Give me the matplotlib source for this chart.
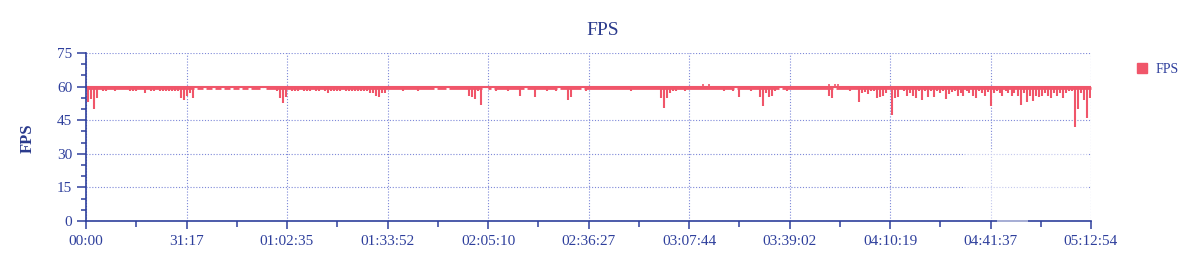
import numpy as np
import matplotlib
matplotlib.use("Agg")
import matplotlib.pyplot as plt
from matplotlib.lines import Line2D
from matplotlib.patches import Rectangle
from matplotlib.ticker import MultipleLocator, FixedLocator

# ---------------- data ----------------
TOTAL_SECONDS = 18774          # 05:12:54
FPS_TOP = 60                   # upper edge of the FPS band
BAND_FLOOR = 59                # the series flickers between 59 and 60

# minimum FPS per time bin (335 equal bins over the whole session)
fps_min = [
    53, 54.5, 50, 55, 59, 58, 58, 59, 59, 58, 59, 59, 59, 59, 58, 58, 58, 59, 59, 57,
    59, 58, 58, 59, 58, 58, 58, 58, 58, 58, 58, 55, 54, 56, 57, 55, 60, 59, 59, 60,
    59, 59, 60, 59, 59, 60, 59, 59, 60, 59, 59, 60, 59, 59, 60, 59, 59, 59, 60, 60,
    59, 59, 59, 58, 55, 52.5, 55.5, 59, 58, 58, 58, 59, 58, 58, 58, 59, 58, 58, 59, 58,
    57, 58, 58, 58, 58, 59, 58, 58, 58, 58, 58, 58, 58, 58, 57, 57, 56, 55.5, 57, 57,
    59, 59, 59, 59, 59, 58, 59, 59, 59, 59, 58, 59, 59, 59, 59, 59, 60, 59, 59, 59,
    60, 59, 59, 59, 59, 59, 59, 56, 55.5, 54.5, 58, 52, 60, 60, 59, 60, 58, 59, 59, 59,
    58, 59, 59, 59, 56, 59, 60, 59, 59, 55.5, 59, 59, 59, 58, 59, 59, 58, 60, 59, 59,
    54, 55.5, 59, 59, 59, 60, 58, 59, 59, 59, 59, 59, 59, 59, 59, 59, 59, 59, 59, 59,
    59, 58, 59, 59, 59, 59, 59, 59, 59, 59, 59, 55, 50.5, 55, 57, 58, 58, 59, 59, 58,
    59, 59, 59, 59, 59, 59, 59, 59, 59, 59, 59, 59, 58, 59, 59, 58, 60, 55.5, 59, 59,
    59, 58, 59, 59, 55.5, 51.5, 57, 55.5, 56, 58, 59, 60, 59, 58, 59, 59, 59, 59, 59, 59,
    59, 59, 59, 59, 59, 59, 59, 56, 55, 60, 59, 59, 59, 59, 58, 59, 59, 53, 57, 57.5,
    56.5, 58, 58, 55, 55.5, 56, 57, 59, 47.5, 55, 55.5, 59, 58, 56, 57, 56, 55, 58, 54, 58,
    55.5, 58, 55.5, 58, 57, 58, 54.5, 56.5, 57.5, 58, 56, 57, 56, 58, 57, 56, 55, 58, 57, 56,
    57.5, 51.5, 57, 58, 57, 56, 58, 57, 56, 57, 56, 52, 57, 53, 56, 53.5, 56, 55.5, 56, 57,
    56, 55, 57, 56, 57, 55, 57, 58, 58, 42, 50, 57, 54, 46, 55,
]
# short spikes above 60
peak_bins = [205, 207, 247, 249, 250]
peak_vals = [61, 61, 61, 61, 61]

x_tick_labels = ["00:00", "31:17", "01:02:35", "01:33:52", "02:05:10", "02:36:27",
                 "03:07:44", "03:39:02", "04:10:19", "04:41:37", "05:12:54"]
y_ticks = [0, 15, 30, 45, 60, 75]
series_name = "FPS"

# ---------------- style ----------------
RED = "#f0566a"
AXIS = "#2e3f9c"
TEXT = "#2e3f9c"
TITLE = "#2a3a8c"
GRID = "#7d88d8"
SERIF = ["Liberation Serif", "DejaVu Serif"]

W, H = 1199, 258
fig = plt.figure(figsize=(W / 100, H / 100), dpi=100)
ax = fig.add_axes([86 / W, (H - 221) / H, 1005 / W, 168 / H])

n = len(fps_min)
edges = np.linspace(0, TOTAL_SECONDS, n + 1)
centers = 0.5 * (edges[:-1] + edges[1:])
low = np.array(fps_min, dtype=float)
band_low = np.maximum(low, BAND_FLOOR)
top = np.full(n, FPS_TOP, dtype=float)

# band 59-60
ax.fill_between(edges, np.append(band_low, band_low[-1]) - 0.25,
                np.append(top, top[-1]),
                step="post", color=RED, lw=0, zorder=3)
# top line at 60
ax.plot([edges[0], edges[-1]], [FPS_TOP, FPS_TOP], color=RED, lw=1.5, zorder=3,
        solid_capstyle="butt")
# dips below the band
mask = low < BAND_FLOOR
ax.vlines(centers[mask], low[mask], BAND_FLOOR, colors=RED, lw=1.5, zorder=3)
# small spikes above
ax.vlines(centers[peak_bins], FPS_TOP, peak_vals, colors=RED, lw=1.2, zorder=3)

ax.set_xlim(0, TOTAL_SECONDS)
ax.set_ylim(0, 75)

xt = np.linspace(0, TOTAL_SECONDS, len(x_tick_labels))
ax.xaxis.set_major_locator(FixedLocator(xt))
ax.xaxis.set_minor_locator(FixedLocator(0.5 * (xt[:-1] + xt[1:])))
ax.set_xticklabels(x_tick_labels)
ax.yaxis.set_major_locator(FixedLocator(y_ticks))
ax.yaxis.set_minor_locator(MultipleLocator(5))

ax.grid(True, which="major", color=GRID, linestyle=(0, (1, 1.6)), linewidth=0.8)
ax.set_axisbelow(True)

for s in ("top", "right"):
    ax.spines[s].set_visible(False)
for s in ("left", "bottom"):
    ax.spines[s].set_color(AXIS)
    ax.spines[s].set_linewidth(1.2)
    ax.spines[s].set_zorder(4)

ax.tick_params(axis="x", which="major", length=6, width=1.1, color=AXIS,
               labelcolor=TEXT, labelsize=11, pad=4)
ax.tick_params(axis="x", which="minor", length=4.5, width=1.1, color=AXIS)
ax.tick_params(axis="y", which="major", length=6.8, width=1.1, color=AXIS,
               labelcolor=TEXT, labelsize=11, pad=3)
ax.tick_params(axis="y", which="minor", length=3.4, width=1.1, color=AXIS)
for lab in ax.get_xticklabels() + ax.get_yticklabels():
    lab.set_family(SERIF)

ax.set_ylabel("FPS", family=SERIF, fontsize=12, fontweight="bold", color=TITLE,
              labelpad=0)
ax.yaxis.set_label_coords((36 - 86) / 1005, (221 - 138) / 168)

# faded overlay in the lower right corner of the plot (as in the source)
fade = Rectangle(((965 - 86) / 1005, 0.005), (1088 - 965) / 1005, (221 - 150) / 168,
                 transform=ax.transAxes, facecolor="white", alpha=0.55, lw=0,
                 zorder=1)
ax.add_patch(fade)
fade2 = Rectangle(((997 - 86) / 1005, -0.012), (1028 - 997) / 1005, 0.024,
                  transform=ax.transAxes, facecolor="white", alpha=0.5, lw=0,
                  zorder=5, clip_on=False)
ax.add_patch(fade2)

fig.text(603 / W, 1 - 30.5 / H, "FPS", ha="center", va="center", family=SERIF,
         fontsize=14, color=TITLE)

handle = Line2D([], [], marker="s", linestyle="none", markersize=7,
                markerfacecolor=RED, markeredgecolor=RED)
fig.legend([handle], [series_name], loc="center left",
           bbox_to_anchor=(1136 / W, 1 - 69.7 / H), frameon=False,
           handlelength=0.9, handletextpad=0.5, borderpad=0, borderaxespad=0,
           prop={"family": SERIF, "size": 10}, labelcolor=TEXT)

fig.savefig("out.png", dpi=100)
